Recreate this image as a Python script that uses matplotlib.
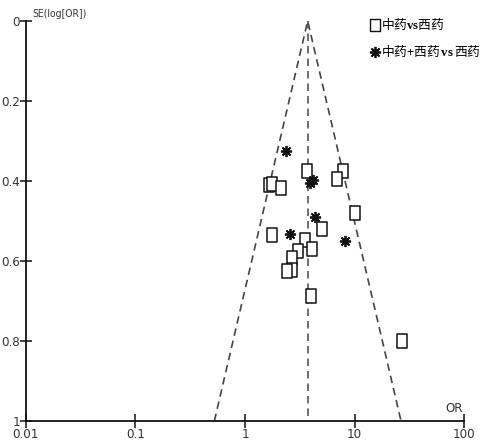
import numpy as np
import matplotlib
matplotlib.use("Agg")
import matplotlib.pyplot as plt
from matplotlib.path import Path
from matplotlib.lines import Line2D

plt.rcParams['font.family'] = ['DejaVu Sans']
plt.rcParams['font.stretch'] = 'condensed'
plt.rcParams['mathtext.fontset'] = 'custom'
plt.rcParams['mathtext.bf'] = 'Liberation Serif:bold'
plt.rcParams['mathtext.rm'] = 'Liberation Serif'

# study estimates: odds ratio and standard error of log(OR)
or_tcm = [3.68, 7.83, 6.95, 1.66, 1.75, 2.12, 10.1, 5.04, 1.76, 3.50,
          4.11, 3.03, 2.67, 2.67, 2.42, 3.97, 27.2]
se_tcm = [0.374, 0.374, 0.394, 0.410, 0.407, 0.417, 0.479, 0.519, 0.536, 0.547,
          0.570, 0.575, 0.593, 0.623, 0.626, 0.688, 0.800]
or_comb = [2.37, 4.20, 3.92, 4.38, 2.59, 8.17]
se_comb = [0.325, 0.398, 0.404, 0.489, 0.533, 0.549]

pooled_or = 3.73
se_max = 1.0

x_ticks = [0.01, 0.1, 1, 10, 100]
x_ticklabels = ['0.01', '0.1', '1', '10', '100']
y_ticks = [0, 0.2, 0.4, 0.6, 0.8, 1]
y_ticklabels = ['0', '0.2', '0.4', '0.6', '0.8', '1']

label_tcm = '中药$\\mathbf{vs}$西药'
label_comb = '中药+西药$\\,\\mathbf{vs}\\,$西药'

fig = plt.figure(figsize=(4.88, 4.47), dpi=100)
ax = fig.add_axes([25.7 / 488, 26 / 447, 438.6 / 488, 400 / 447])

# tall open rectangle marker
rect = Path([(-0.38, -0.5), (0.38, -0.5), (0.38, 0.5), (-0.38, 0.5), (-0.38, -0.5)],
            [Path.MOVETO, Path.LINETO, Path.LINETO, Path.LINETO, Path.CLOSEPOLY])

# funnel: pooled OR +/- 1.96 SE on log scale
se_line = np.array([se_max, 0, se_max])
or_line = pooled_or * np.exp(np.array([-1.96, 0, 1.96]) * se_line)
ax.plot(or_line, se_line, color='#444444', lw=1.2, ls=(0, (4.5, 3)), zorder=1)
ax.plot([pooled_or, pooled_or], [0, se_max], color='#555555', lw=1.2,
        ls=(0, (4.5, 3)), zorder=1)

ax.plot(or_tcm, se_tcm, ls='none', marker=rect, ms=9.5, mfc='white',
        mec='#111111', mew=1.1, zorder=3)
ax.plot(or_comb, se_comb, ls='none', marker=(8, 2, 0), ms=8, mec='#111111',
        mew=1.3, zorder=4)

ax.set_xscale('log')
ax.set_xlim(0.01, 100)
ax.set_ylim(1, 0)
ax.set_xticks(x_ticks)
ax.set_xticklabels(x_ticklabels)
ax.set_yticks(y_ticks)
ax.set_yticklabels(y_ticklabels)
ax.minorticks_off()

for side in ['top', 'right']:
    ax.spines[side].set_visible(False)
for side in ['left', 'bottom']:
    ax.spines[side].set_linewidth(1.3)
    ax.spines[side].set_color('#111111')

ax.tick_params(axis='x', direction='inout', length=10, width=1.1, pad=0,
               labelsize=9.5, labelcolor='#333333', color='#111111')
ax.tick_params(axis='y', direction='inout', length=8, width=1.1, pad=0,
               labelsize=9.5, labelcolor='#333333', color='#111111')

ax.text(0.0115, -0.005, 'SE(log[OR])', fontsize=7.5, color='#333333',
        ha='left', va='bottom', clip_on=False)
ax.text(97, 0.985, 'OR', fontsize=9.5, color='#333333', ha='right', va='bottom')

handles = [
    Line2D([], [], ls='none', marker=rect, ms=9, mfc='white', mec='#111111', mew=1.0),
    Line2D([], [], ls='none', marker=(8, 2, 0), ms=8, mec='#111111', mew=1.3),
]
leg = ax.legend(handles, [label_tcm, label_comb], loc='upper left',
                bbox_to_anchor=(0.776, 1.025), frameon=False, handlelength=0.6,
                handletextpad=0.2, labelspacing=0.85, borderaxespad=0,
                prop={'family': ['Noto Sans CJK SC', 'DejaVu Sans'], 'size': 9.2})

fig.savefig('out.png', dpi=100)
